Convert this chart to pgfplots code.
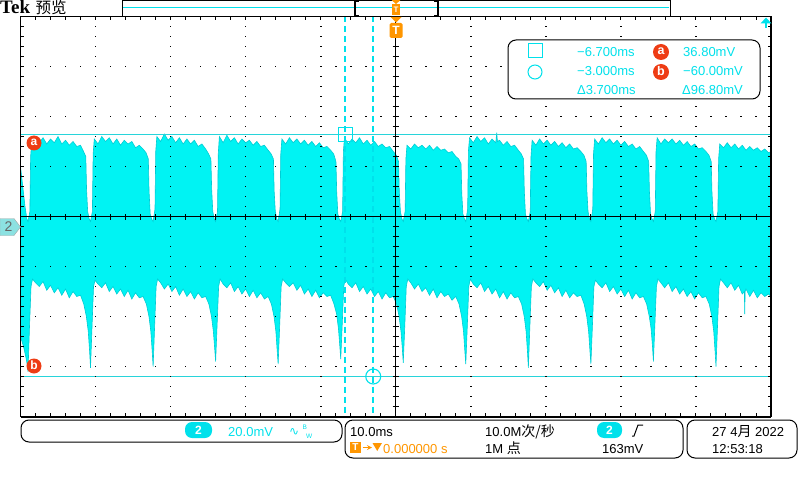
\documentclass[border=0pt]{standalone}
\usepackage{fontspec}
\setmainfont{Liberation Sans}
\newfontfamily\dv{DejaVu Sans}
\newfontfamily\cjk{Noto Sans CJK SC}
\newfontfamily\tekfont{Liberation Serif}
\usepackage{pgfplots}
\pgfplotsset{compat=1.18}
\usepgfplotslibrary{fillbetween}
\definecolor{trace}{RGB}{0,243,243}
\definecolor{traceedge}{RGB}{0,205,212}
\definecolor{cyantext}{RGB}{0,225,235}
\definecolor{curs}{RGB}{40,212,218}
\definecolor{torange}{RGB}{255,150,0}
\definecolor{cred}{RGB}{238,60,20}
\definecolor{gndfill}{RGB}{140,225,225}
\begin{document}
\begin{tikzpicture}[x=1pt,y=1pt]
\begin{axis}[at={(20.5pt,63.5pt)}, anchor=south west, scale only axis,
  width=750.5pt, height=400pt, xmin=-50, xmax=50, ymin=-76, ymax=84,
  ticks=none, axis line style={draw=none}, clip=true]
\addplot[draw=none, name path=U] coordinates {
(-50,24) (-49.7,16) (-49.4,8) (-49.15,3) (-49.0,2)
(-48.75,6) (-48.65,28) (-48.5,34) (-48.0,36) (-47.5,33.5) (-47.0,35.5) (-46.5,33) (-46.0,35) (-45.5,33.5) (-45.0,36) (-44.5,33) (-44.0,34.5) (-43.5,32.5) (-43.0,34) (-42.5,32) (-42.0,32.5) (-41.6,30) (-41.3,28) (-41.2,15) (-41.05,6) (-40.85,3) (-40.67,2)
(-40.42,6) (-40.32,29) (-40.17,35) (-39.67,33) (-39.17,36) (-38.67,34) (-38.17,35.5) (-37.67,33) (-37.17,35) (-36.67,32.5) (-36.17,34.5) (-35.67,33) (-35.17,34) (-34.67,31.5) (-34.17,32.5) (-33.67,31) (-33.27,29.5) (-32.97,27) (-32.87,14) (-32.72,5) (-32.52,3) (-32.33,2)
(-32.08,7) (-31.98,30) (-31.83,36) (-31.33,34) (-30.83,37) (-30.33,34.5) (-29.83,36) (-29.33,33.5) (-28.83,35.5) (-28.33,33) (-27.83,35) (-27.33,33) (-26.83,34.5) (-26.33,32) (-25.83,33) (-25.33,31) (-24.93,29) (-24.63,27) (-24.53,15) (-24.38,6) (-24.18,3) (-24.0,2)
(-23.75,6) (-23.65,29) (-23.5,36) (-23.0,33.5) (-22.5,36.5) (-22.0,34) (-21.5,35.5) (-21.0,33) (-20.5,35) (-20.0,33.5) (-19.5,34.5) (-19.0,32.5) (-18.5,34) (-18.0,32) (-17.5,32.5) (-17.0,30.5) (-16.6,29) (-16.3,27) (-16.2,14) (-16.05,6) (-15.85,3) (-15.67,2)
(-15.42,7) (-15.32,29) (-15.17,35) (-14.67,33) (-14.17,35.5) (-13.67,33.5) (-13.17,35) (-12.67,33) (-12.17,34.5) (-11.67,32.5) (-11.17,34) (-10.67,32) (-10.17,33.5) (-9.67,31.5) (-9.17,32) (-8.67,30.5) (-8.27,29) (-7.97,26) (-7.87,14) (-7.72,5) (-7.52,3) (-7.33,2)
(-7.08,6) (-6.98,30) (-6.83,35.5) (-6.33,33) (-5.83,35) (-5.33,33.5) (-4.83,35.5) (-4.33,33) (-3.83,34.5) (-3.33,32.5) (-2.83,34) (-2.33,32) (-1.83,33) (-1.33,31.5) (-0.83,32) (-0.33,30) (0.07,28.5) (0.37,26) (0.47,14) (0.62,6) (0.82,3) (1.0,2)
(1.25,6) (1.35,27) (1.5,32.5) (2.0,31) (2.5,33) (3.0,31.5) (3.5,32.5) (4.0,31) (4.5,32.5) (5.0,30.5) (5.5,32) (6.0,30.5) (6.5,31) (7.0,29.5) (7.5,30) (8.0,28) (8.4,27) (8.7,25) (8.8,13) (8.95,5) (9.15,3) (9.33,2)
(9.58,7) (9.68,30) (9.83,35.5) (10.33,33.5) (10.83,36) (11.33,34) (11.83,35.5) (12.33,33) (12.83,35) (13.33,33.5) (13.45,37.5) (13.55,34) (13.83,34.5) (14.33,32.5) (14.83,34) (15.33,32) (15.83,32.5) (16.33,30.5) (16.73,29) (17.03,27) (17.13,14) (17.28,5) (17.48,3) (17.67,2)
(17.92,6) (18.02,28) (18.17,34.5) (18.67,32.5) (19.17,35) (19.67,33) (20.17,34.5) (20.67,32.5) (21.17,34) (21.67,32) (22.17,33.5) (22.67,31.5) (23.17,33) (23.67,31) (24.17,31.5) (24.67,30) (25.07,28.5) (25.37,26) (25.47,14) (25.62,6) (25.82,3) (26.0,2)
(26.25,7) (26.35,29) (26.5,35) (27.0,33) (27.5,35.5) (28.0,33.5) (28.5,35) (29.0,33) (29.5,34.5) (30.0,32.5) (30.5,34) (31.0,32) (31.5,33) (32.0,31) (32.5,32) (33.0,30) (33.4,28.5) (33.7,26) (33.8,14) (33.95,5) (34.15,3) (34.33,2)
(34.58,6) (34.68,30) (34.83,35.5) (35.33,33) (35.83,35) (36.33,33.5) (36.83,35) (37.33,33) (37.83,34.5) (38.33,32.5) (38.83,34) (39.33,32) (39.83,33) (40.33,31) (40.83,31.5) (41.33,30) (41.73,28.5) (42.03,26) (42.13,14) (42.28,5) (42.48,3) (42.67,2)
(42.92,6) (43.02,27) (43.17,33) (43.67,31.5) (44.17,33.5) (44.67,31.5) (45.17,33) (45.67,31) (46.17,32.5) (46.67,30.5) (47.17,32) (47.67,30.5) (48.17,31.5) (48.67,30) (49.17,31) (49.67,29.5) (50.0,30)
};
\addplot[draw=none, name path=L] coordinates {
(-50,-44) (-49.6,-48) (-49.3,-52) (-49.12,-55) (-49.0,-58)
(-48.8,-40) (-48.6,-24) (-48.4,-21) (-48.0,-22.5) (-47.5,-24) (-47.0,-22) (-46.5,-25.5) (-46.0,-23.5) (-45.5,-26.5) (-45.0,-24.5) (-44.5,-27.5) (-44.0,-25) (-43.5,-28.5) (-43.0,-26) (-42.5,-28) (-42.0,-27.5) (-41.57,-31) (-41.22,-36) (-40.97,-42) (-40.79,-50) (-40.67,-56.5)
(-40.47,-40) (-40.27,-24) (-40.07,-21.5) (-39.67,-23) (-39.17,-24.5) (-38.67,-22.5) (-38.17,-26) (-37.67,-24) (-37.17,-27) (-36.67,-25) (-36.17,-28) (-35.67,-25.5) (-35.17,-29) (-34.67,-26.5) (-34.17,-28.5) (-33.67,-28) (-33.23,-31) (-32.88,-36) (-32.63,-42) (-32.45,-50) (-32.33,-56)
(-32.13,-40) (-31.93,-24) (-31.73,-21) (-31.33,-22.5) (-30.83,-25) (-30.33,-23) (-29.83,-26) (-29.33,-24) (-28.83,-27.5) (-28.33,-25) (-27.83,-28) (-27.33,-26) (-26.83,-29) (-26.33,-26.5) (-25.83,-28.5) (-25.33,-28) (-24.9,-31) (-24.55,-36) (-24.3,-42) (-24.12,-49) (-24.0,-54)
(-23.8,-39) (-23.6,-24) (-23.4,-21) (-23.0,-23) (-22.5,-24.5) (-22.0,-22.5) (-21.5,-26) (-21.0,-24) (-20.5,-27) (-20.0,-25) (-19.5,-28) (-19.0,-25.5) (-18.5,-28.5) (-18.0,-26.5) (-17.5,-29) (-17.0,-28) (-16.57,-31) (-16.22,-36) (-15.97,-42) (-15.79,-50) (-15.67,-55)
(-15.47,-40) (-15.27,-24) (-15.07,-21) (-14.67,-22.5) (-14.17,-24) (-13.67,-22.5) (-13.17,-25.5) (-12.67,-23.5) (-12.17,-27) (-11.67,-25) (-11.17,-28) (-10.67,-25.5) (-10.17,-28.5) (-9.67,-26.5) (-9.17,-28) (-8.67,-27.5) (-8.23,-31) (-7.88,-35) (-7.63,-41) (-7.45,-48) (-7.33,-53)
(-7.13,-39) (-6.93,-24) (-6.73,-21) (-6.33,-23) (-5.83,-24.5) (-5.33,-22.5) (-4.83,-26) (-4.33,-24) (-3.83,-27) (-3.33,-25) (-2.83,-28) (-2.33,-26) (-1.83,-29) (-1.33,-26.5) (-0.83,-28.5) (-0.33,-28) (0.1,-31) (0.45,-36) (0.7,-42) (0.88,-49) (1.0,-54.5)
(1.2,-40) (1.4,-24) (1.6,-21) (2.0,-22.5) (2.5,-25) (3.0,-23) (3.5,-26) (4.0,-24.5) (4.5,-27.5) (5.0,-25) (5.5,-28.5) (6.0,-26) (6.5,-28) (7.0,-27) (7.5,-29.5) (8.0,-28) (8.43,-31) (8.78,-36) (9.03,-42) (9.21,-50) (9.33,-55)
(9.53,-40) (9.73,-24) (9.93,-21) (10.33,-23) (10.83,-24.5) (11.33,-22.5) (11.83,-26) (12.33,-24) (12.83,-27) (13.33,-25) (13.83,-28.5) (14.33,-26) (14.83,-29) (15.33,-26.5) (15.83,-28.5) (16.33,-28) (16.77,-31) (17.12,-36) (17.37,-42) (17.55,-50) (17.67,-56.5)
(17.87,-40) (18.07,-24) (18.27,-21) (18.67,-22.5) (19.17,-24) (19.67,-22) (20.17,-25.5) (20.67,-23.5) (21.17,-26.5) (21.67,-24.5) (22.17,-28) (22.67,-25.5) (23.17,-28.5) (23.67,-26.5) (24.17,-28) (24.67,-27.5) (25.1,-31) (25.45,-36) (25.7,-42) (25.88,-50) (26.0,-55)
(26.2,-40) (26.4,-24) (26.6,-21.5) (27.0,-23) (27.5,-24.5) (28.0,-22.5) (28.5,-26) (29.0,-24) (29.5,-27) (30.0,-25) (30.5,-28) (31.0,-25.5) (31.5,-29) (32.0,-26.5) (32.5,-28.5) (33.0,-28) (33.43,-31) (33.78,-36) (34.03,-41) (34.21,-48) (34.33,-54)
(34.53,-39) (34.73,-24) (34.93,-21) (35.33,-22.5) (35.83,-24.5) (36.33,-22.5) (36.83,-26) (37.33,-24) (37.83,-27) (38.33,-25) (38.83,-28) (39.33,-26) (39.83,-29) (40.33,-26.5) (40.83,-28.5) (41.33,-28) (41.77,-31) (42.12,-36) (42.37,-42) (42.55,-50) (42.67,-56)
(42.87,-40) (43.07,-24) (43.27,-21) (43.67,-22.5) (44.17,-24.5) (44.67,-22.5) (45.17,-25.5) (45.67,-23.5) (46.17,-27) (46.45,-26) (46.5,-35) (46.55,-26) (46.67,-25) (47.17,-28) (47.67,-25.5) (48.17,-28.5) (48.67,-26.5) (49.17,-28) (49.67,-27) (50.0,-28)
};
\addplot[fill=trace, draw=traceedge, line width=0.6pt] fill between[of=U and L];
% cursors
\addplot[curs, line width=1.3pt] coordinates {(-50,36.8) (50,36.8)};
\addplot[curs, line width=1.3pt] coordinates {(-50,-60) (50,-60)};
\addplot[cyantext, line width=2pt, dash pattern=on 6pt off 4pt] coordinates {(-6.7,84) (-6.7,-76)};
\addplot[cyantext, line width=2pt, dash pattern=on 6pt off 4pt] coordinates {(-3.0,84) (-3.0,-76)};
\addplot[cyantext, only marks, mark=square, mark size=7pt, mark options={line width=1.1pt, fill=none}] coordinates {(-6.7,36.8)};
\addplot[cyantext, only marks, mark=o, mark size=7.5pt, mark options={line width=1.1pt, fill=white}] coordinates {(-3.0,-60)};
\end{axis}
% graticule dots
\foreach \i in {1,2,3,4,6,7,8,9} {
  \foreach \j in {1,...,39} {
    \fill ({20.5+\i*75.05-0.8},{63.5+\j*10-0.8}) rectangle ++(1.6,1.6);
  }
}
\foreach \j in {1,2,3,5,6,7} {
  \foreach \i in {1,...,49} {
    \fill ({20.5+\i*15.01-0.8},{63.5+\j*50-0.8}) rectangle ++(1.6,1.6);
  }
}
% centre lines with ticks
\draw[line width=1.2pt] (395.75,63.5) -- (395.75,463.5);
\draw[line width=1.2pt] (20.5,263.5) -- (771,263.5);
\foreach \j in {1,...,39} \draw[line width=1pt] (392.5,{63.5+\j*10}) -- (399,{63.5+\j*10});
\foreach \i in {1,...,49} \draw[line width=1pt] ({20.5+\i*15.01},260.5) -- ({20.5+\i*15.01},266.5);
% edge ticks
\foreach \i in {1,...,49} {
  \draw[line width=1pt] ({20.5+\i*15.01},463.5) -- ++(0,-3.5);
  \draw[line width=1pt] ({20.5+\i*15.01},63.5) -- ++(0,3.5);
}
\foreach \j in {1,...,39} {
  \draw[line width=1pt] (20.5,{63.5+\j*10}) -- ++(3.5,0);
  \draw[line width=1pt] (771,{63.5+\j*10}) -- ++(-3.5,0);
}
% border
\draw[line width=1.2pt] (20.5,63.5) rectangle (771,463.5);
\draw[line width=2.5pt] (20.5,63) -- (771,63);
% header
\node[anchor=base west, inner sep=0] at (0,466) {\tekfont\bfseries\fontsize{19}{19}\selectfont Tek};
\node[anchor=base west, inner sep=0] at (35.5,466.5) {\cjk\fontsize{15.5}{15.5}\selectfont 预览};
% record bar
\draw[line width=1pt] (122,463.5) rectangle (670,479.5);
\draw[cyantext, line width=0.8pt] (123,473) -- (669,473);
\draw[line width=2pt] (355,463.5) -- (355,480);
\draw[line width=2pt] (438,463.5) -- (438,480);
\draw[line width=1.5pt] (355,479.2) -- (359,479.2) (355,464.3) -- (359,464.3);
\draw[line width=1.5pt] (438,479.2) -- (434,479.2) (438,464.3) -- (434,464.3);
\fill[torange] (391.5,480) -- (400.5,480) -- (396,476) -- cycle;
\fill[torange] (392,464.5) rectangle (400,476);
\node[white, inner sep=0, font=\bfseries\fontsize{8}{8}\selectfont] at (396,470) {T};
% trigger position marker
\fill[torange] (390.5,463) -- (401.5,463) -- (396,457.5) -- cycle;
\fill[torange, rounded corners=1.5pt] (389.5,457) rectangle (402.5,442);
\node[white, inner sep=0, font=\bfseries\fontsize{12}{12}\selectfont] at (396,449.5) {T};
% trigger level arrow
\fill[cyantext] (766,462.5) -- (760.5,456.5) -- (771.5,456.5) -- cycle;
\draw[cyantext, line width=1.5pt] (766,457) -- (766,452);
% channel 2 ground marker
\draw[gray!70, fill=gndfill] (0,244.5) -- (14,244.5) -- (20.5,253) -- (14,261.5) -- (0,261.5) -- cycle;
\node[text=gray!80!black, inner sep=0, font=\fontsize{14}{14}\selectfont] at (8.5,253) {2};
% cursor labels a, b
\fill[cred] (34,337) circle (7.5);
\node[white, inner sep=0, font=\bfseries\fontsize{12}{12}\selectfont] at (34,337.8) {a};
\fill[cred] (34,114) circle (7.5);
\node[white, inner sep=0, font=\bfseries\fontsize{12}{12}\selectfont] at (34,114.5) {b};
% readout box
\draw[line width=1pt, rounded corners=8pt, fill=white] (508,440) rectangle (760,381);
\draw[cyantext, line width=1pt] (528,422) rectangle (542,436);
\draw[cyantext, line width=1pt] (535,408) circle (7);
\begin{scope}[every node/.style={anchor=base west, inner sep=0, text=cyantext, font=\fontsize{13}{13}\selectfont}]
\node at (577,423) {−6.700ms};
\node at (683,423) {36.80mV};
\node at (577,404) {−3.000ms};
\node at (683,404) {−60.00mV};
\node at (577,385) {Δ3.700ms};
\node at (682,385) {Δ96.80mV};
\end{scope}
\fill[cred] (661,428) circle (8);
\node[white, inner sep=0, font=\bfseries\fontsize{12.5}{12.5}\selectfont] at (661,428.8) {a};
\fill[cred] (661,408) circle (8);
\node[white, inner sep=0, font=\bfseries\fontsize{12.5}{12.5}\selectfont] at (661,408.5) {b};
% bottom boxes
\draw[line width=1pt, rounded corners=8pt] (21,60) rectangle (342,38);
\draw[line width=1pt, rounded corners=8pt] (345,60) rectangle (683,22);
\draw[line width=1pt, rounded corners=8pt] (687,60) rectangle (797,22);
% box 1
\fill[cyantext, rounded corners=7pt] (185,58) rectangle (212,42);
\node[white, inner sep=0, font=\bfseries\fontsize{12}{12}\selectfont] at (198.5,50) {2};
\node[anchor=base west, inner sep=0, text=cyantext, font=\fontsize{13}{13}\selectfont] at (228,44) {20.0mV};
\node[anchor=base west, inner sep=0, text=cyantext, font=\dv\fontsize{12}{12}\selectfont] at (289,45) {∿};
\node[anchor=base west, inner sep=0, text=cyantext, font=\fontsize{6.5}{6.5}\selectfont] at (302.5,51) {B};
\node[anchor=base west, inner sep=0, text=cyantext, font=\fontsize{6.5}{6.5}\selectfont] at (306,42) {W};
% box 2
\begin{scope}[every node/.style={anchor=base west, inner sep=0, font=\fontsize{13}{13}\selectfont}]
\node at (350,44) {10.0ms};
\node at (485,44) {10.0M{\cjk\fontsize{14}{14}\selectfont 次/秒}};
\node at (485,27) {1M {\cjk\fontsize{14}{14}\selectfont 点}};
\node at (602,27) {163mV};
\node[text=torange] at (383,27) {0.000000 s};
\node at (712,44) {27 4{\cjk\fontsize{14}{14}\selectfont 月} 2022};
\node at (712,27) {12:53:18};
\end{scope}
\fill[cyantext, rounded corners=7pt] (597,58) rectangle (622,42);
\node[white, inner sep=0, font=\bfseries\fontsize{12}{12}\selectfont] at (609.5,50) {2};
\draw[line width=1pt] (632,44) -- (634,44) -- (638,55) -- (643,55);
\fill[torange] (350,38) rectangle (361,27);
\node[white, inner sep=0, font=\bfseries\fontsize{10}{10}\selectfont] at (355.5,32.5) {T};
\draw[torange, line width=1.2pt, -stealth] (362.5,32.5) -- (372,32.5);
\fill[torange] (372.5,37) -- (382,37) -- (377.25,29) -- cycle;
\pgfresetboundingbox
\useasboundingbox (0,0) rectangle (800,480);
\end{tikzpicture}
\end{document}
